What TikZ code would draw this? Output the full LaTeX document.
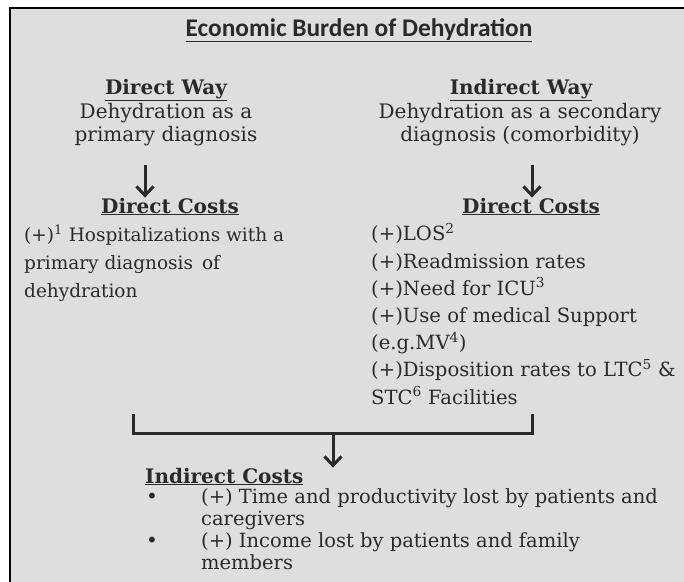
\documentclass[tikz,border=0pt]{standalone}
\usepackage{fontspec}
\setmainfont{DejaVu Serif}
\newfontfamily\titlefont{Carlito}
\usetikzlibrary{arrows.meta}
\definecolor{panelgray}{HTML}{DEDEDE}
\definecolor{inkgray}{HTML}{2A2A2A}
\tikzset{
  txt/.style={inner sep=0pt, text=inkgray, font=\fontsize{20}{23}\selectfont},
  head/.style={txt, font=\fontsize{20}{23}\selectfont\bfseries},
  arr/.style={line width=3pt, draw=inkgray, -{Straight Barb[length=9pt,width=17pt]}},
  brace/.style={line width=3pt, draw=inkgray}
}
\newcommand{\hd}[1]{\underline{#1}}
\begin{document}
\begin{tikzpicture}[x=1pt, y=-1pt]
\useasboundingbox (0,0) rectangle (684,581);
\clip (0,0) rectangle (684,581);
%%% panel %%%
\draw[line width=1.5pt, fill=panelgray] (10,8) rectangle (700,600);

%% title
\node[txt, anchor=base, font=\fontsize{25.4}{28}\selectfont\titlefont\bfseries] (title) at (359,36) {\hd{Economic Burden of Dehydration}};

%% direct way (base = last line)
\node[head, anchor=base] (dirway) at (166,94) {\hd{Direct Way}};
\node[txt, align=center, anchor=base] (dirdesc) at (166,141) {Dehydration as a\\primary diagnosis};
\node[head, anchor=base] (dircost) at (170,213) {\hd{Direct Costs}};
\node[txt, align=left, anchor=base west, font=\fontsize{18.5}{28}\selectfont] (dirlist) at (24,297)
  {(+)\textsuperscript{1} Hospitalizations with a\\primary diagnosis\ \,of\\dehydration};

%% indirect way
\node[head, anchor=base] (indway) at (521,94) {\hd{Indirect Way}};
\node[txt, align=center, anchor=base] (inddesc) at (520,141) {Dehydration as a secondary\\diagnosis (comorbidity)};
\node[head, anchor=base] (indcost) at (531,213) {\hd{Direct Costs}};
\node[txt, align=left, anchor=base west, font=\fontsize{19.6}{27.2}\selectfont] (indlist) at (371,404)
  {(+)LOS\textsuperscript{2}\\(+)Readmission rates\\(+)Need for ICU\textsuperscript{3}\\(+)Use of medical Support\\(e.g.MV\textsuperscript{4})\\(+)Disposition rates to LTC\textsuperscript{5} \&\\STC\textsuperscript{6} Facilities};

%% arrows down
\coordinate (dirtop) at (145,165);
\coordinate (indtop) at (532,165);
\draw[arr] (dirtop) -- (dirtop |- dircost.north);
\draw[arr] (indtop) -- (indtop |- indcost.north);

%% bracket
\coordinate (bl) at (133,414);
\coordinate (br) at (532,414);
\coordinate (bmid) at (333,433);
\draw[brace] (bl) -- (bl |- bmid) -- (br |- bmid) -- (br);

%% indirect costs
\node[head, anchor=base west] (indirc) at (145,483) {\hd{Indirect Costs}};
\draw[arr] (bmid) -- (bmid |- indirc.north);
\node[txt, anchor=base west, align=left, font=\fontsize{20}{44}\selectfont] (bullets) at (146,547)
  {\textbullet\\\textbullet};
\node[txt, anchor=base west, align=left, font=\fontsize{19.5}{22}\selectfont] (indlist2) at (201,569)
  {(+) Time and productivity lost by patients and\\caregivers\\(+) Income lost by patients and family\\members};
\end{tikzpicture}
\end{document}
